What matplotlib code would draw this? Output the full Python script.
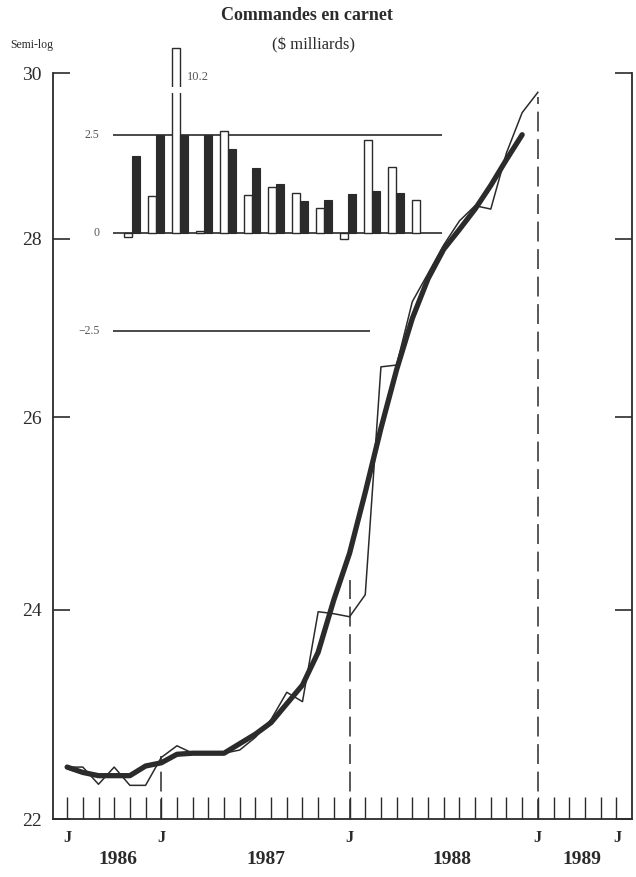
"""
Backlog of orders chart (semi-log) with monthly change inset.
"""

import matplotlib
matplotlib.use("Agg")
import matplotlib.pyplot as plt
import matplotlib.transforms as mtransforms
from matplotlib.ticker import NullLocator, NullFormatter

# monthly series, month 0 = January 1986
thin_vals = [22.48, 22.48, 22.32, 22.48, 22.31, 22.31, 22.57, 22.68, 22.61,
             22.61, 22.61, 22.64, 22.76, 22.93, 23.19, 23.10, 23.98, 23.96,
             23.93, 24.15, 26.55, 26.57, 27.28, 27.60, 27.93, 28.21, 28.39,
             28.35, 29.02, 29.51, 29.76]
trend_vals = [22.48, 22.43, 22.40, 22.40, 22.40, 22.49, 22.52, 22.60, 22.61,
              22.61, 22.61, 22.70, 22.79, 22.90, 23.08, 23.26, 23.58, 24.10,
              24.57, 25.20, 25.88, 26.52, 27.09, 27.54, 27.88, 28.11, 28.35,
              28.63, 28.94, 29.24]

# inset: % change, last 13 months
white_chg = [-0.1, 0.94, 10.2, 0.05, 2.6, 0.97, 1.17, 1.02, 0.64, -0.15,
             2.37, 1.68, 0.84]
black_chg = [1.96, 2.5, 2.5, 2.5, 2.14, 1.66, 1.25, 0.82, 0.84, 0.99, 1.07,
             1.02]

y_ticks = [22, 24, 26, 28, 30]
j_months = [0, 6, 18, 30, 35.1]
year_labels = ["1986", "1987", "1988", "1989"]
year_pos = [3.25, 12.7, 24.5, 32.8]
marker_months = [6, 18, 30]
marker_tops = [22.58, 24.3, 29.7]

INK = "#2b2b2b"
SERIF = "Liberation Serif"
W, H = 636, 877


def main():
    fig = plt.figure(figsize=(W / 100, H / 100), dpi=100)
    ax = fig.add_axes([53 / W, 1 - 819 / H, (632 - 53) / W, (819 - 73) / H])

    months = list(range(len(thin_vals)))
    ax.plot(months, thin_vals, color=INK, lw=1.1, zorder=3)
    ax.plot(months[:len(trend_vals)], trend_vals, color=INK, lw=3.8,
            solid_capstyle="round", solid_joinstyle="round", zorder=4)
    ax.vlines(marker_months, 22, marker_tops, colors=INK, lw=1.1,
              linestyles=(0, (13, 5)), zorder=2)

    ax.set_yscale("log")
    ax.set_ylim(22, 30)
    ax.set_xlim(-0.9, 36)
    ax.yaxis.set_minor_locator(NullLocator())
    ax.yaxis.set_minor_formatter(NullFormatter())
    ax.set_yticks(y_ticks)
    ax.set_yticklabels([str(v) for v in y_ticks], fontfamily=SERIF,
                       fontsize=14, color=INK)
    ax.set_xticks(range(36))
    ax.set_xticklabels([])
    ax.tick_params(axis="y", direction="in", length=12, width=1.2,
                   left=True, right=True, pad=8, colors=INK)
    ax.tick_params(axis="x", direction="in", length=16, width=1.0,
                   colors=INK)
    ax.spines["top"].set_visible(False)
    for s in ("left", "right", "bottom"):
        ax.spines[s].set_linewidth(1.3)
        ax.spines[s].set_color(INK)

    trans = mtransforms.blended_transform_factory(ax.transData,
                                                  fig.transFigure)
    for m in j_months:
        ax.text(m, 1 - 838 / H, "J", transform=trans, ha="center",
                va="center", fontfamily=SERIF, fontweight="bold",
                fontsize=12, color=INK)
    for m, lab in zip(year_pos, year_labels):
        ax.text(m, 1 - 860 / H, lab, transform=trans, ha="center",
                va="center", fontfamily=SERIF, fontweight="bold",
                fontsize=14, color=INK)

    fig.text(307 / W, 1 - 15 / H, "Commandes en carnet", ha="center",
             va="center", fontfamily=SERIF, fontweight="bold", fontsize=13,
             color=INK)
    fig.text(313 / W, 1 - 45 / H, "($ milliards)", ha="center",
             va="center", fontfamily=SERIF, fontsize=12, color=INK)
    fig.text(10 / W, 1 - 45 / H, "Semi-log", ha="left", va="center",
             fontfamily=SERIF, fontsize=8.5, color=INK)

    # inset bars
    ins = fig.add_axes([105 / W, 1 - 345 / H, 345 / W, 305 / H])
    ins.set_xlim(-1.125, 13.25)
    ins.set_ylim(-2.857, 4.923)
    ins.axis("off")
    ins.patch.set_alpha(0)

    ins.hlines([2.5, 0], -0.79, 12.9, colors=INK, lw=1.2, zorder=1)
    ins.hlines(-2.5, -0.79, 9.9, colors=INK, lw=1.2, zorder=1)
    for v, lab in ((2.5, "2.5"), (0, "0"), (-2.5, "\u22122.5")):
        ins.text(-1.35, v, lab, ha="right", va="center", fontfamily=SERIF,
                 fontsize=8.5, color="#555555")

    top = 4.72
    kw = [k - 0.17 for k in range(len(white_chg))]
    kb = [k + 0.17 for k in range(len(black_chg))]
    ins.bar(kw, [min(v, top) for v in white_chg], width=0.33,
            facecolor="white", edgecolor=INK, lw=1.0, zorder=2)
    ins.bar(kb, black_chg, width=0.36, facecolor=INK, edgecolor=INK,
            lw=0.8, zorder=2)

    # break in the tall bar
    big = white_chg.index(max(white_chg))
    ins.add_patch(plt.Rectangle((kw[big] - 0.3, 3.57), 0.6, 0.15,
                                facecolor="white", edgecolor="none",
                                zorder=3))
    ins.text(kw[big] + 0.45, 3.98, "10.2", ha="left", va="center",
             fontfamily=SERIF, fontsize=9, color="#555555")

    fig.savefig("out.png", dpi=100, facecolor="white")


if __name__ == "__main__":
    main()
